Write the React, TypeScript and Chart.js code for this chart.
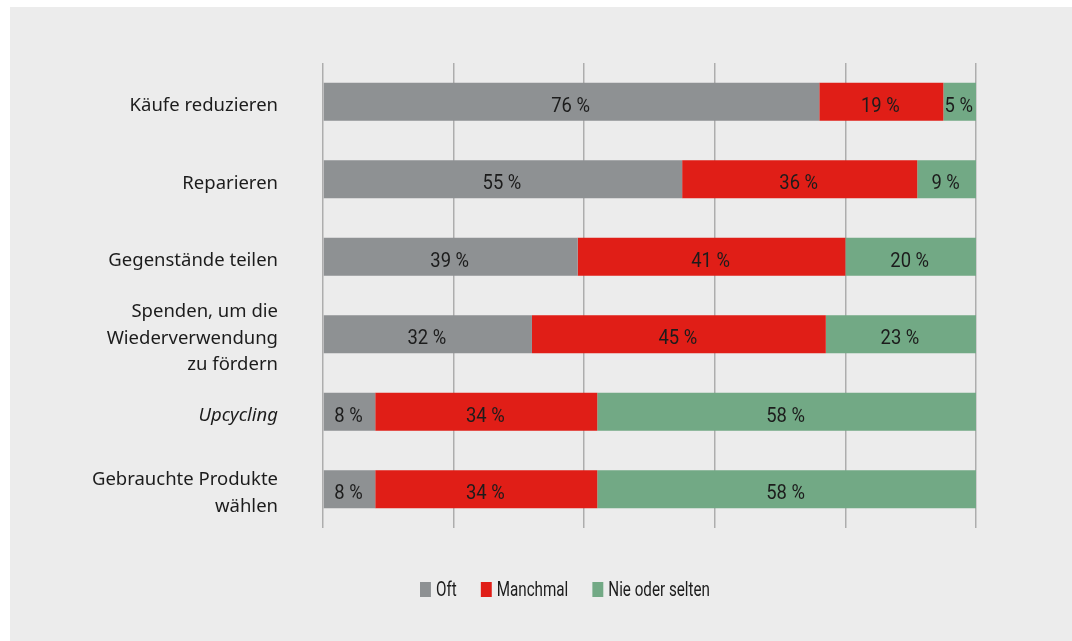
import React, { useEffect, useRef } from "react";
import { Chart, registerables } from "chart.js";

Chart.register(...registerables);

const categories: (string | string[])[] = [
  "Käufe reduzieren",
  "Reparieren",
  "Gegenstände teilen",
  ["Spenden, um die", "Wiederverwendung", "zu fördern"],
  "Upcycling",
  ["Gebrauchte Produkte", "wählen"],
];
const italicCategories = ["Upcycling"];

const seriesNames = ["Oft", "Manchmal", "Nie oder selten"];
const oftValues = [76, 55, 39, 32, 8, 8];
const manchmalValues = [19, 36, 41, 45, 34, 34];
const nieValues = [5, 9, 20, 23, 58, 58];
const seriesColors = ["#8e9193", "#e01e17", "#72a985"];

const xTicks = [0, 20, 40, 60, 80, 100];

const REG = "'Noto Sans', sans-serif";
const COND = "Roboto, sans-serif";
const SQUEEZE = 0.78;

const dataLabelPlugin = {
  id: "dataLabels",
  afterDatasetsDraw(chart: any) {
    const ctx = chart.ctx;
    chart.data.datasets.forEach((ds: any, di: number) => {
      const meta = chart.getDatasetMeta(di);
      meta.data.forEach((el: any, i: number) => {
        const v = ds.data[i];
        const c = el.getCenterPoint();
        ctx.save();
        ctx.translate(c.x - 1, c.y + 10);
        ctx.scale(0.92, 1);
        ctx.font = `20px ${COND}`;
        ctx.fillStyle = "#1c1c1c";
        ctx.textAlign = "center";
        ctx.textBaseline = "alphabetic";
        ctx.fillText(`${v} %`, 0, 0);
        ctx.restore();
      });
    });
  },
};

export default function App() {
  const ref = useRef<HTMLCanvasElement>(null);
  useEffect(() => {
    if (!ref.current) return;
    const values = [oftValues, manchmalValues, nieValues];
    const chart = new Chart(ref.current, {
      type: "bar",
      data: {
        labels: categories,
        datasets: seriesNames.map((name, i) => ({
          label: name,
          data: values[i],
          backgroundColor: seriesColors[i],
          borderWidth: 0,
          barPercentage: 0.49,
          categoryPercentage: 1,
        })),
      },
      options: {
        indexAxis: "y",
        animation: false,
        responsive: false,
        maintainAspectRatio: false,
        layout: { padding: { left: 0, top: 63, right: 96, bottom: 113 } },
        plugins: { legend: { display: false }, tooltip: { enabled: false } },
        scales: {
          x: {
            stacked: true,
            min: 0,
            max: 100,
            afterBuildTicks: (scale: any) => {
              scale.ticks = xTicks.map((v) => ({ value: v }));
            },
            ticks: { display: false },
            grid: { color: "#adadad", lineWidth: 1.5, drawTicks: false },
            border: { display: false },
            afterFit: (scale: any) => {
              scale.height = 0;
              scale.paddingLeft = 0;
              scale.paddingRight = 0;
            },
          },
          y: {
            stacked: true,
            grid: { display: false, drawTicks: false },
            border: { display: false },
            ticks: {
              autoSkip: false,
              padding: 45,
              labelOffset: 4,
              color: "#1c1c1c",
              font: (c: any) => ({
                family: REG,
                size: 18.5,
                lineHeight: 1.41,
                style: italicCategories.includes(categories[c.index] as string) ? "italic" : "normal",
              }),
            },
            afterFit: (scale: any) => {
              scale.width = 323;
              scale.paddingTop = 0;
              scale.paddingBottom = 0;
            },
          },
        },
      },
      plugins: [dataLabelPlugin],
    });
    return () => chart.destroy();
  }, []);

  return (
    <div>
      <div
        style={{
          position: "absolute",
          left: 10,
          top: 7,
          width: 1062,
          height: 634,
          background: "#ececec",
        }}
      />
      <canvas
        ref={ref}
        width={1072}
        height={641}
        style={{ position: "absolute", left: 0, top: 0, width: 1072, height: 641 }}
      />
      <div
        style={{
          position: "absolute",
          left: 420,
          top: 576,
          height: 26,
          display: "flex",
          alignItems: "center",
          fontFamily: COND,
          fontSize: 19.5,
          color: "#1c1c1c",
          transform: `scaleX(${SQUEEZE})`,
          transformOrigin: "0 0",
          whiteSpace: "nowrap",
        }}
      >
        {seriesNames.map((name, i) => (
          <div
            key={name}
            style={{ display: "flex", alignItems: "center", marginRight: 24 / SQUEEZE }}
          >
            <span
              style={{
                display: "inline-block",
                width: 11 / SQUEEZE,
                height: 15,
                background: seriesColors[i],
                marginRight: 5 / SQUEEZE,
              }}
            />
            <span>{name}</span>
          </div>
        ))}
      </div>
    </div>
  );
}
